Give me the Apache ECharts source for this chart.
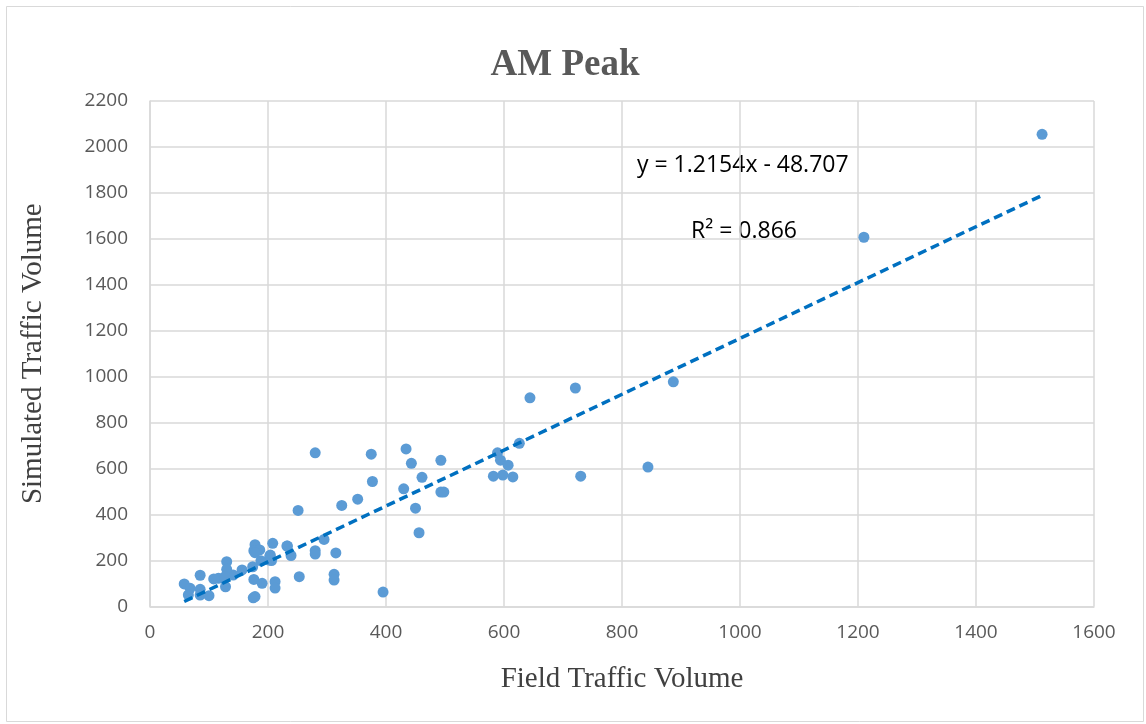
<!DOCTYPE html>
<html>
<head>
<meta charset="utf-8">
<script src="https://cdn.jsdelivr.net/npm/echarts@6/dist/echarts.min.js"></script>
<style>
  html, body { margin: 0; padding: 0; background: #fff; }
  #chart { width: 1146px; height: 724px; }
</style>
</head>
<body>
<div id="chart"></div>
<script>
// Field vs simulated counts, AM peak
const fieldVolume = [
  1512, 1210, 887, 721, 644, 844, 730, 626, 589, 594, 607, 582, 598, 615,
  375, 434, 443, 493, 377, 461, 430, 493, 498, 352, 325, 450, 456, 295,
  315, 280, 280, 312, 312, 395, 280, 251, 233, 239, 208, 178, 176, 186,
  203, 188, 174, 156, 141, 206, 176, 190, 212, 212, 253, 178, 175, 130,
  130, 116, 108, 127, 128, 85, 58, 68, 65, 85, 85, 100, 178, 232, 202, 204
];
const simulatedVolume = [
  2055, 1607, 978, 951, 908, 607, 567, 710, 669, 637, 615, 567, 572, 564,
  663, 686, 623, 636, 544, 562, 512, 498, 498, 467, 440, 428, 321, 292,
  233, 243, 228, 140, 115, 63, 669, 418, 263, 222, 275, 269, 243, 246,
  220, 199, 173, 159, 137, 200, 118, 101, 108, 80, 130, 43, 38, 195,
  162, 123, 120, 130, 86, 136, 98, 79, 50, 75, 50, 47, 234, 263, 202, 224
];
const xTicks = [0, 200, 400, 600, 800, 1000, 1200, 1400, 1600];
const yTicks = [0, 200, 400, 600, 800, 1000, 1200, 1400, 1600, 1800, 2000, 2200];

// Linear trend fit
const slope = 1.2154;
const intercept = -48.707;
const rSquared = 0.866;

const points = fieldVolume.map((x, i) => [x, simulatedVolume[i]]);
const xMin = Math.min(...fieldVolume);
const xMax = Math.max(...fieldVolume);
const trend = [[xMin, slope * xMin + intercept], [xMax, slope * xMax + intercept]];

const labelFont = '"Open Sans", sans-serif';
const serif = '"Liberation Serif", "DejaVu Serif", serif';
const plain = v => String(v);

const chart = echarts.init(document.getElementById('chart'));
chart.setOption({
  animation: false,
  backgroundColor: '#fff',
  title: {
    text: 'AM Peak',
    left: 560,
    textAlign: 'center',
    top: 42,
    textStyle: { fontFamily: serif, fontWeight: 'bold', fontSize: 37, color: '#595959' }
  },
  grid: { left: 150, right: 52, top: 101, bottom: 117.5 },
  xAxis: {
    type: 'value',
    min: xTicks[0],
    max: xTicks[xTicks.length - 1],
    interval: xTicks[1] - xTicks[0],
    name: 'Field Traffic Volume',
    nameLocation: 'middle',
    nameGap: 58,
    nameTextStyle: { fontFamily: serif, fontSize: 29, color: '#404040' },
    axisLine: { lineStyle: { color: '#d9d9d9', width: 1.5 } },
    axisTick: { show: false },
    axisLabel: { margin: 17, fontFamily: labelFont, fontSize: 19, color: '#595959', formatter: plain },
    splitLine: { lineStyle: { color: '#d9d9d9', width: 1.5 } }
  },
  yAxis: {
    type: 'value',
    min: yTicks[0],
    max: yTicks[yTicks.length - 1],
    interval: yTicks[1] - yTicks[0],
    name: 'Simulated Traffic Volume',
    nameLocation: 'middle',
    nameGap: 102,
    nameTextStyle: { fontFamily: serif, fontSize: 29, color: '#404040' },
    axisLine: { show: true, lineStyle: { color: '#d9d9d9', width: 1.5 } },
    axisTick: { show: false },
    axisLabel: { margin: 22, fontFamily: labelFont, fontSize: 19, color: '#595959', formatter: plain },
    splitLine: { lineStyle: { color: '#d9d9d9', width: 1.5 } }
  },
  series: [
    {
      type: 'line',
      data: trend,
      symbol: 'none',
      silent: true,
      z: 3,
      lineStyle: { color: '#0070C0', width: 3.5, type: [9, 5] }
    },
    {
      type: 'scatter',
      data: points,
      symbolSize: 11,
      z: 2,
      itemStyle: { color: '#5B9BD5', opacity: 1 }
    }
  ],
  graphic: [
    {
      type: 'rect',
      left: 4, top: 4,
      shape: { width: 1137, height: 715 },
      style: { fill: 'none', stroke: '#d9d9d9', lineWidth: 1 },
      silent: true
    },
    {
      type: 'text',
      left: 637, top: 154,
      style: {
        text: 'y = ' + slope + 'x - ' + Math.abs(intercept),
        font: '23px "Open Sans", sans-serif',
        fill: '#000'
      }
    },
    {
      type: 'text',
      left: 691, top: 220,
      style: {
        text: 'R² = ' + rSquared,
        font: '23px "Open Sans", sans-serif',
        fill: '#000'
      }
    }
  ]
});
</script>
</body>
</html>
